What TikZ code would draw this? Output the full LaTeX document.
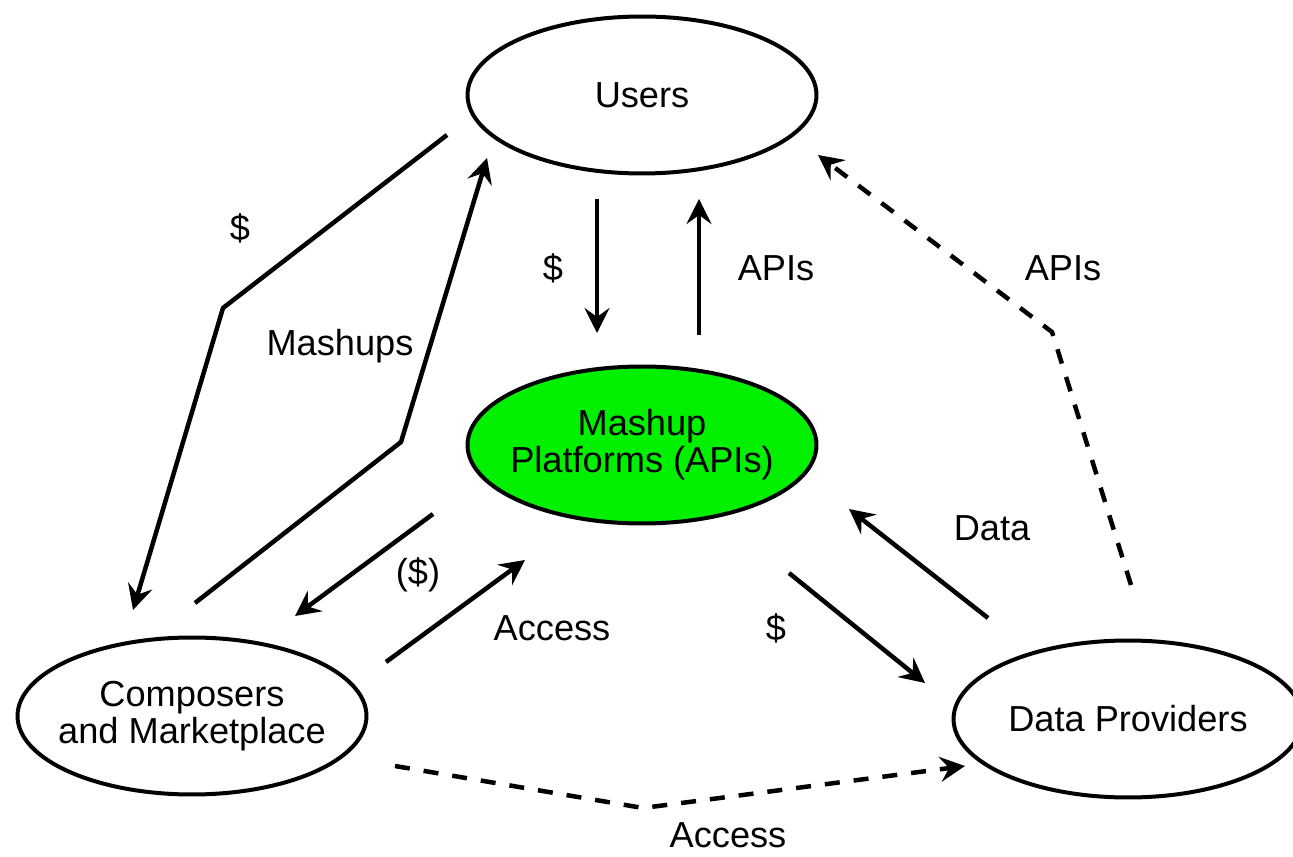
\documentclass[tikz,border=0pt]{standalone}
\usepackage{fontspec}
\setmainfont{Liberation Sans}
\usetikzlibrary{shapes.geometric,arrows.meta}
\definecolor{platformgreen}{RGB}{0,240,0}

\tikzset{
  party/.style={draw, ellipse, line width=0.08cm, minimum width=6.98cm,
    minimum height=3.14cm, inner xsep=-1.2cm, inner ysep=0pt, align=center},
  pay/.style={line width=0.09cm, line join=round,
    -{Stealth[length=0.5cm,width=0.5cm,inset=0.18cm]}},
  optpay/.style={pay, dash pattern=on 0.3cm off 0.28cm},
  lbl/.style={inner sep=0pt, text height=0.72em, text depth=0pt}
}

\begin{document}
\begin{tikzpicture}[x=0.02cm, y=-0.02cm, font=\fontsize{20.6}{21}\selectfont]
  \useasboundingbox (0,0) rectangle (1293,857);
  \node[party] (users) at (642,95) {Users};
  \node[party, fill=platformgreen] (platform) at (642,445) {Mashup\\Platforms (APIs)};
  \node[party] (composers) at (192,716) {Composers\\and Marketplace};
  \node[party] (providers) at (1128,719) {Data Providers};
  % Free ends of the flows
  \coordinate (u1) at (447,135);
  \coordinate (u2) at (223,308);
  \coordinate (c1) at (133,610);
  \coordinate (c2) at (195,603);
  \coordinate (c3) at (401,442);
  \coordinate (u3) at (487,158);
  \coordinate (u4) at (597,199);
  \coordinate (p1) at (597,333);
  \coordinate (p2) at (699,335);
  \coordinate (u5) at (699,199);
  \coordinate (p3) at (433,514);
  \coordinate (c4) at (295,616);
  \coordinate (c5) at (386,662);
  \coordinate (p4) at (525,560);
  \coordinate (p5) at (789,573);
  \coordinate (d1) at (925,683);
  \coordinate (d2) at (988,618);
  \coordinate (p6) at (849,509);
  \coordinate (d3) at (1131,585);
  \coordinate (d4) at (1052,332);
  \coordinate (u6) at (818,155);
  \coordinate (c6) at (395,766);
  \coordinate (c7) at (643,808);
  \coordinate (d5) at (965,766);
  % Draw the flows
  \draw[pay] (u1) -- (u2) -- (c1);
  \draw[pay] (c2) -- (c3) -- (u3);
  \draw[pay] (u4) -- (p1);
  \draw[pay] (p2) -- (u5);
  \draw[pay] (p3) -- (c4);
  \draw[pay] (c5) -- (p4);
  \draw[pay] (p5) -- (d1);
  \draw[pay] (d2) -- (p6);
  \draw[optpay] (d3) -- (d4) -- (u6);
  \draw[optpay] (c6) -- (c7) -- (d5);
  % Labels
  \node[lbl] (usersfee) at (240,234) {\$};
  \node[lbl] (mashups) at (340,349) {Mashups};
  \node[lbl] (platformfee) at (553,274) {\$};
  \node[lbl] (apis) at (776,274) {APIs};
  \node[lbl] (optfee) at (418,578) {(\$)};
  \node[lbl] (access) at (552,634) {Access};
  \node[lbl] (datafee) at (776,634) {\$};
  \node[lbl] (data) at (992,534) {Data};
  \node[lbl] (directapis) at (1063,274) {APIs};
  \node[lbl] (directaccess) at (728,841) {Access};
\end{tikzpicture}
\end{document}
